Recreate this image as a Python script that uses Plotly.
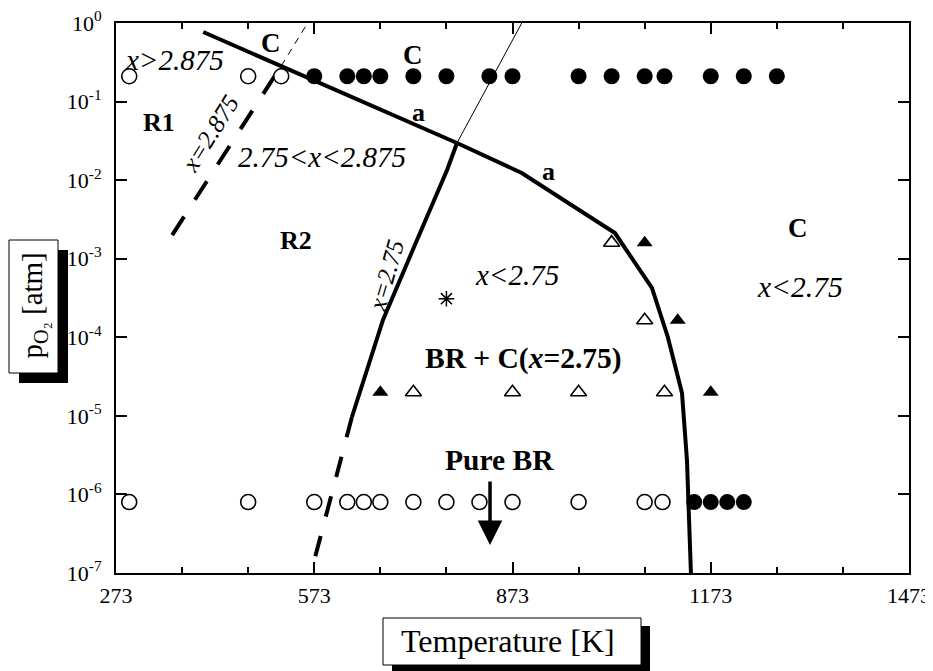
import plotly.graph_objects as go

# ---------------- data ----------------
# experimental points, pO2 = 0.21 atm (air)
air_p = 0.21
air_open_T = [293, 473, 523]
air_fill_T = [573, 623, 648, 673, 723, 773, 838, 873, 973, 1023, 1073, 1103, 1173, 1223, 1273]

# experimental points, low pO2
low_p = 8e-7
low_open_T = [293, 473, 573, 623, 648, 673, 723, 773, 823, 873, 973, 1073, 1100]
low_fill_T = [1148, 1173, 1198, 1223]

# triangles
tri_open_T = [723, 873, 973, 1103, 1073, 1023]
tri_open_p = [2e-5, 2e-5, 2e-5, 2e-5, 1.65e-4, 1.6e-3]
tri_fill_T = [673, 1173, 1123, 1073]
tri_fill_p = [2e-5, 2e-5, 1.65e-4, 1.6e-3]

# asterisk
star_T = [773]
star_p = [3.1e-4]

# boundary "a"
a_T = [405, 789, 887, 1028, 1084, 1108, 1129.5, 1137, 1143]
a_p = [0.768, 0.0297, 0.01233, 2.12e-3, 4.24e-4, 1.01e-4, 1.95e-5, 2.74e-6, 1e-7]

# x = 2.75 boundary
x275_T = [789, 774, 728.5, 677, 630]
x275_p = [0.0297, 0.01346, 1.73e-3, 1.66e-4, 9.67e-6]
x275_dash_T = [630, 568]
x275_dash_p = [9.67e-6, 1e-7]
x275_thin_T = [789, 887]
x275_thin_p = [0.0297, 1.0]

# x = 2.875 boundary
x2875_T = [358, 523]
x2875_p = [2.0e-3, 0.284]
x2875_thin_T = [523, 563]
x2875_thin_p = [0.284, 1.0]

x_tickvals = [273, 573, 873, 1173, 1473]
y_tickvals = [1e-7, 1e-6, 1e-5, 1e-4, 1e-3, 1e-2, 1e-1, 1]
y_ticktext = ["10<sup>-7</sup>", "10<sup>-6</sup>", "10<sup>-5</sup>", "10<sup>-4</sup>",
              "10<sup>-3</sup>", "10<sup>-2</sup>", "10<sup>-1</sup>", "10<sup>0</sup>"]

FONT = "Liberation Serif"

fig = go.Figure()

def line(T, p, width=4, dash="solid"):
    fig.add_trace(go.Scatter(x=T, y=p, mode="lines",
                             line=dict(color="black", width=width, dash=dash),
                             hoverinfo="skip"))

line(a_T, a_p)
line(x275_T, x275_p)
line(x275_dash_T, x275_dash_p, dash="21px,20px")
line(x275_thin_T, x275_thin_p, width=1)
line(x2875_T, x2875_p, dash="22px,20px")
line(x2875_thin_T, x2875_thin_p, width=1, dash="7px,6px")

def pts(T, p, symbol, size, filled):
    fig.add_trace(go.Scatter(
        x=T, y=p, mode="markers",
        marker=dict(symbol=symbol, size=size,
                    color="black" if filled else "white",
                    line=dict(color="black", width=0 if filled else 1.6)),
        hoverinfo="skip"))

pts(air_open_T, [air_p] * len(air_open_T), "circle", 15, False)
pts(air_fill_T, [air_p] * len(air_fill_T), "circle", 16, True)
pts(low_open_T, [low_p] * len(low_open_T), "circle", 15, False)
pts(low_fill_T, [low_p] * len(low_fill_T), "circle", 16, True)
pts(tri_open_T, tri_open_p, "triangle-up", 14, False)
pts(tri_fill_T, tri_fill_p, "triangle-up", 14, True)
fig.add_trace(go.Scatter(x=star_T, y=star_p, mode="markers",
                         marker=dict(symbol="asterisk-open", size=13, color="black",
                                     line=dict(color="black", width=1.5)),
                         hoverinfo="skip"))

# ---------------- labels ----------------
def lab(text, T, logp, size=26, angle=0):
    fig.add_annotation(x=T, y=logp, text=text, showarrow=False, textangle=angle,
                       font=dict(family=FONT, size=size, color="black"),
                       xanchor="center", yanchor="middle")

lab("<i>x&gt;2.875</i>", 361, -0.471, 29)
lab("<b>C</b>", 507, -0.255, 27)
lab("<b>C</b>", 722, -0.407, 27)
lab("<b>R1</b>", 338, -1.26)
lab("<i>x=2.875</i>", 415, -1.40, 25, -58)
lab("<i>2.75&lt;x&lt;2.875</i>", 585, -1.705, 29)
lab("<b>a</b>", 731, -1.133)
lab("<b>a</b>", 927, -1.896)
lab("<b>R2</b>", 545, -2.762)
lab("<i>x=2.75</i>", 683, -3.207, 25, -74)
lab("<i>x&lt;2.75</i>", 880, -3.207, 29)
lab("<b>BR + C(<i>x</i>=2.75)</b>", 890, -4.264, 29.5)
lab("<b>C</b>", 1305, -2.609, 27)
lab("<i>x&lt;2.75</i>", 1308, -3.36, 29.5)
lab("<b>Pure BR</b>", 854, -5.562, 29.5)

fig.add_annotation(x=839, y=-6.644, ax=839, ay=-5.816, axref="x", ayref="y",
                   xref="x", yref="y", text="", showarrow=True,
                   arrowhead=2, arrowsize=1.4, arrowwidth=3.5, arrowcolor="black")

# ---------------- layout geometry (page has an 8px body margin) ----------------
OX, OY = 8, 8
W, H = 925, 663
L, R, T_, B = 108, 24, 15, 98
pw, ph = W - L - R, H - T_ - B

def px2paper(x, y):
    # x, y in page pixels of the 933x671 window
    return (x - OX - L) / pw, (H - B - (y - OY)) / ph

def box(x0, y0, x1, y1, fill, lw):
    a = px2paper(x0, y1)
    b = px2paper(x1, y0)
    fig.add_shape(type="rect", xref="paper", yref="paper",
                  x0=a[0], y0=a[1], x1=b[0], y1=b[1],
                  fillcolor=fill, line=dict(color="black", width=lw), layer="above")

# y title box
box(19, 250, 68, 383, "black", 0)
box(9, 240, 58, 373, "white", 1)
# x title box
box(392, 626, 650, 675, "black", 0)
box(383, 618, 641, 665, "white", 1)

cx, cy = px2paper(33.5, 306)
fig.add_annotation(xref="paper", yref="paper", x=cx, y=cy, showarrow=False,
                   xanchor="center", yanchor="middle",
                   text="p<sub>O₂</sub> [atm]", textangle=-90,
                   font=dict(family=FONT, size=29, color="black"))
cx, cy = px2paper(508, 641)
fig.add_annotation(xref="paper", yref="paper", x=cx, y=cy, showarrow=False,
                   xanchor="center", yanchor="middle",
                   text="Temperature [K]",
                   font=dict(family=FONT, size=32, color="black"))

fig.update_layout(
    width=W, height=H, showlegend=False,
    margin=dict(l=L, r=R, t=T_, b=B, autoexpand=False),
    paper_bgcolor="white", plot_bgcolor="white",
    font=dict(family=FONT, size=22, color="black"),
    xaxis=dict(range=[273, 1473], tickvals=x_tickvals, ticks="inside", ticklen=11,
               tickwidth=2, tickcolor="black", showline=True, linewidth=2,
               linecolor="black", mirror="ticks", showgrid=False, zeroline=False,
               ticklabelstandoff=2, automargin=False, ticklabeloverflow="allow",
               minor=dict(tick0=273, dtick=100, ticks="inside", ticklen=6,
                          tickwidth=2, tickcolor="black", showgrid=False),
               tickfont=dict(family=FONT, size=22)),
    yaxis=dict(type="log", range=[-7, 0], tickvals=y_tickvals, ticktext=y_ticktext,
               ticks="inside", ticklen=11, tickwidth=2, tickcolor="black",
               showline=True, linewidth=2, linecolor="black", mirror="ticks",
               showgrid=False, zeroline=False, ticklabelstandoff=8, automargin=False,
               ticklabeloverflow="allow",
               tickfont=dict(family=FONT, size=22)),
)

fig.write_html("out.html")
